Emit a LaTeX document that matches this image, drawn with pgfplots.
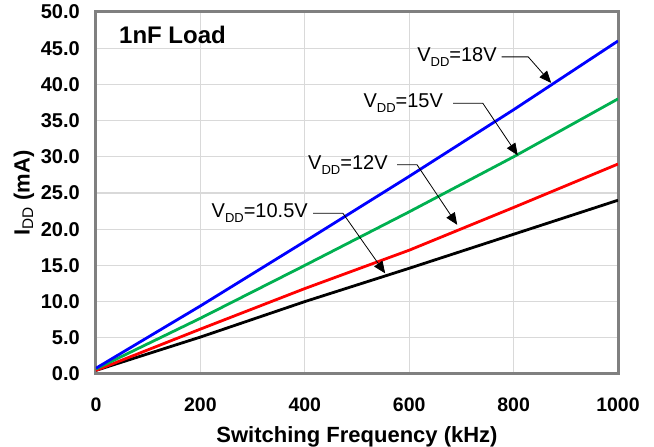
\documentclass[border=0pt]{standalone}
\usepackage{fontspec}
\setmainfont{Liberation Sans}
\usepackage{pgfplots}
\pgfplotsset{compat=1.18}
\usetikzlibrary{arrows.meta}
\definecolor{vgreen}{RGB}{0,176,80}
\definecolor{gridgray}{RGB}{217,217,217}
\definecolor{framegray}{RGB}{128,128,128}
\newcommand{\sub}[1]{\raisebox{-0.25em}{\fontsize{13}{14}\selectfont #1}}

\begin{document}
\begin{tikzpicture}
\begin{axis}[
    name=ax, scale only axis,
    width=522pt, height=362pt,
    xmin=0, xmax=1000, ymin=0, ymax=50,
    xtick={0,200,...,1000}, ytick={0,5,...,50},
    grid=major, grid style={gridgray, line width=1.3pt},
    axis line style={framegray, line width=3pt},
    major tick length=0pt,
    /pgf/number format/assume math mode=true,
    /pgf/number format/1000 sep={},
    tick label style={font=\fontsize{19.5}{22}\selectfont\bfseries, inner sep=0pt},
    xticklabel style={yshift=-24pt},
    yticklabel style={xshift=-16pt, font=\fontsize{20}{22}\selectfont\bfseries,
        /pgf/number format/.cd, fixed, fixed zerofill, precision=1},
    xlabel={Switching Frequency (kHz)},
    ylabel={I\textsubscript{\textmd{DD}} (mA)},
    label style={font=\fontsize{22}{24}\selectfont\bfseries},
    xlabel style={at={(axis description cs:0.5,-0.174)}, anchor=center},
    ylabel style={at={(axis description cs:-0.138,0.5)}, anchor=center},
]
\addplot[black, line width=2.8pt] coordinates {
  (0,0.5) (200,5.1) (400,10.0) (600,14.6) (800,19.3) (1000,24.0)};
\addplot[red, line width=2.8pt] coordinates {
  (0,0.5) (200,6.2) (400,11.8) (600,17.1) (800,23.0) (1000,29.0)};
\addplot[vgreen, line width=2.8pt] coordinates {
  (0,0.7) (200,7.7) (400,15.0) (600,22.4) (800,30.0) (1000,38.0)};
\addplot[blue, line width=2.8pt] coordinates {
  (0,0.8) (200,9.4) (400,18.3) (600,27.3) (800,36.5) (1000,46.0)};

\node[anchor=west, font=\fontsize{24}{26}\selectfont\bfseries, inner sep=0pt] at (axis cs:44,46.8) {1nF Load};

\tikzset{lbl/.style={anchor=east, font=\fontsize{20}{22}\selectfont, inner sep=0pt},
         ptr/.style={black, line width=0.8pt, -{Triangle[length=12pt,width=10pt]}}}
\node[lbl] at (axis cs:768,43.8) {V\sub{DD}=18V};
\draw[ptr] (axis cs:777,43.8) -- (axis cs:828,43.8) -- (axis cs:872,40.2);
\node[lbl] at (axis cs:665,37.4) {V\sub{DD}=15V};
\draw[ptr] (axis cs:684,37.4) -- (axis cs:741,37.4) -- (axis cs:808,30.2);
\node[lbl] at (axis cs:559,28.9) {V\sub{DD}=12V};
\draw[ptr] (axis cs:577,28.9) -- (axis cs:615,28.9) -- (axis cs:692,20.6);
\node[lbl] at (axis cs:406,22.2) {V\sub{DD}=10.5V};
\draw[ptr] (axis cs:416,22.2) -- (axis cs:473,22.2) -- (axis cs:554,13.9);
\end{axis}
\pgfresetboundingbox
\path[use as bounding box] ([xshift=-96pt,yshift=-73pt]ax.south west) rectangle ([xshift=36pt,yshift=12pt]ax.north east);
\end{tikzpicture}
\end{document}
